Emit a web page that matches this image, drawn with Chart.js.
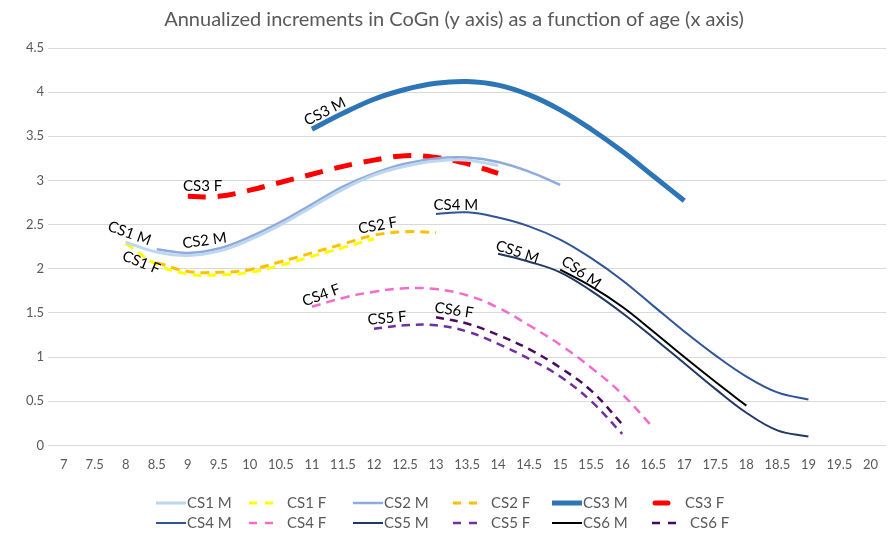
<!DOCTYPE html>
<html>
<head>
<meta charset="utf-8">
<script src="https://cdn.jsdelivr.net/npm/chart.js@4.4.1/dist/chart.umd.min.js"></script>
<style>
  body { margin: 0; background: #fff; }
  #wrap { width: 892px; height: 533px; position: relative; }
</style>
</head>
<body>
<div id="wrap"><canvas id="myChart"></canvas></div>
<script>
// tick labels on x (age)
var ages = ['7', '7.5', '8', '8.5', '9', '9.5', '10', '10.5', '11', '11.5', '12', '12.5', '13', '13.5',
            '14', '14.5', '15', '15.5', '16', '16.5', '17', '17.5', '18', '18.5', '19', '19.5', '20'];

// each series: first age and values every 0.5 year
var cs1M = [2.30, 2.19, 2.15, 2.20, 2.33, 2.50, 2.70, 2.90, 3.06, 3.16, 3.22, 3.23, 3.17];   // from 8
var cs1F = [2.29, 2.05, 1.94, 1.93, 1.96, 2.04, 2.14, 2.24, 2.34];                           // from 8
var cs2M = [2.22, 2.18, 2.23, 2.36, 2.53, 2.73, 2.93, 3.08, 3.19, 3.25, 3.26, 3.21, 3.10, 2.95]; // from 8.5
var cs2F = [2.07, 1.97, 1.96, 1.99, 2.08, 2.18, 2.28, 2.38, 2.42, 2.41];                     // from 8.5
var cs3M = [3.58, 3.76, 3.92, 4.03, 4.10, 4.12, 4.08, 3.97, 3.80, 3.58, 3.33, 3.05, 2.77];   // from 11
var cs3F = [2.82, 2.82, 2.89, 2.98, 3.07, 3.16, 3.23, 3.28, 3.26, 3.19, 3.08];               // from 9
var cs4M = [2.62, 2.64, 2.58, 2.48, 2.33, 2.12, 1.87, 1.58, 1.29, 1.02, 0.78, 0.60, 0.52];   // from 13
var cs4F = [1.57, 1.67, 1.74, 1.78, 1.77, 1.70, 1.56, 1.36, 1.14, 0.88, 0.58, 0.20];         // from 11
var cs5M = [2.17, 2.08, 1.96, 1.75, 1.50, 1.22, 0.93, 0.64, 0.37, 0.17, 0.10];               // from 14
var cs5F = [1.32, 1.36, 1.36, 1.29, 1.15, 0.98, 0.78, 0.50, 0.13];                           // from 12
var cs6M = [1.99, 1.80, 1.57, 1.29, 1.00, 0.72, 0.45];                                       // from 15
var cs6F = [1.45, 1.38, 1.25, 1.09, 0.88, 0.62, 0.24];                                       // from 13

// line-end labels: text, age, value, rotation (deg)
var tags = [
  ['CS1 M', 8.06, 2.40, 20], ['CS1 F', 8.25, 2.07, 22], ['CS2 M', 9.27, 2.32, -8],
  ['CS3 F', 9.24, 2.93, 0], ['CS3 M', 11.21, 3.78, -27], ['CS2 F', 12.06, 2.49, -10],
  ['CS4 M', 13.32, 2.72, 0], ['CS4 F', 11.15, 1.70, -20], ['CS5 F', 12.21, 1.44, -5],
  ['CS6 F', 13.29, 1.53, 8], ['CS5 M', 14.31, 2.19, 18], ['CS6 M', 15.34, 1.96, 35]
];

function from(age, vals) {
  var start = ages.indexOf(age);
  return ages.map(function (a, i) {
    var v = vals[i - start];
    return v === undefined ? null : v;
  });
}

function line(label, data, color, width, dash) {
  return {
    label: label, data: data, borderColor: color, backgroundColor: color,
    borderWidth: width, borderDash: dash || [], pointRadius: 0, fill: false,
    tension: 0.4, spanGaps: false
  };
}

var font = "Lato, 'Open Sans', sans-serif";
var datasets = [
  line('CS1 M', from('8', cs1M), '#bdd7ee', 3),
  line('CS1 F', from('8', cs1F), '#ffff00', 3, [9, 6]),
  line('CS2 M', from('8.5', cs2M), '#8faadc', 2.5),
  line('CS2 F', from('8.5', cs2F), '#ffc000', 3, [9, 6]),
  line('CS3 M', from('11', cs3M), '#2e75b6', 5),
  line('CS3 F', from('9', cs3F), '#ff0000', 5, [18, 12]),
  line('CS4 M', from('13', cs4M), '#2f5597', 2),
  line('CS4 F', from('11', cs4F), '#f36ccd', 2.5, [9, 6]),
  line('CS5 M', from('14', cs5M), '#203864', 2),
  line('CS5 F', from('12', cs5F), '#7030a0', 2.5, [8, 6]),
  line('CS6 M', from('15', cs6M), '#000000', 2),
  line('CS6 F', from('13', cs6F), '#4b0a5e', 2.5, [8, 6])
];

var tagPlugin = {
  id: 'tags',
  afterDatasetsDraw: function (chart) {
    var c = chart.ctx, xs = chart.scales.x, ys = chart.scales.y;
    var step = xs.getPixelForValue(1) - xs.getPixelForValue(0);
    c.save();
    c.font = '15px ' + font;
    c.fillStyle = '#000';
    c.textAlign = 'center';
    c.textBaseline = 'middle';
    tags.forEach(function (t) {
      var px = xs.getPixelForValue(0) + (t[1] - 7) * 2 * step;
      var py = ys.getPixelForValue(t[2]);
      c.save();
      c.translate(px, py);
      c.rotate(t[3] * Math.PI / 180);
      c.fillText(t[0], 0, 0);
      c.restore();
    });
    c.restore();
  }
};

// two-row legend like the original
var legendPlugin = {
  id: 'rowsLegend',
  afterDraw: function (chart) {
    var c = chart.ctx;
    var cols = [156, 249, 353, 453, 552, 652];
    var rows = [503, 523];
    c.save();
    c.font = '15px ' + font;
    c.fillStyle = '#595959';
    c.textBaseline = 'middle';
    datasets.forEach(function (ds, i) {
      var x = cols[i % 6], y = rows[Math.floor(i / 6)];
      var dashed = ds.borderDash.length > 0;
      c.strokeStyle = ds.borderColor;
      c.lineWidth = ds.borderWidth;
      c.beginPath();
      if (ds.label === 'CS3 F') {
        c.lineCap = 'round';
        c.setLineDash([]);
        c.moveTo(x + 3, y); c.lineTo(x + 16, y);
        c.stroke();
        c.lineCap = 'butt';
        c.fillText(ds.label, x + 33, y);
        return;
      }
      if (dashed) {
        c.setLineDash([8, 8]);
        c.moveTo(x, y); c.lineTo(x + 25, y);
      } else {
        c.setLineDash([]);
        c.moveTo(x, y); c.lineTo(x + 30, y);
      }
      c.stroke();
      c.fillText(ds.label, x + (dashed ? 38 : 31), y);
    });
    c.restore();
  }
};

var ctx = document.getElementById('myChart').getContext('2d');
var myChart = new Chart(ctx, {
  type: 'line',
  data: { labels: ages, datasets: datasets },
  plugins: [tagPlugin, legendPlugin],
  options: {
    responsive: true,
    maintainAspectRatio: false,
    animation: false,
    layout: { padding: { left: 22, right: 6, top: 0, bottom: 56 } },
    plugins: {
      legend: { display: false },
      tooltip: { enabled: false },
      title: {
        display: true,
        text: 'Annualized increments in CoGn (y axis) as a function of age (x axis)',
        color: '#595959',
        font: { family: font, size: 20, weight: 'normal' },
        padding: { top: 8, bottom: 16 }
      }
    },
    scales: {
      x: {
        offset: true,
        grid: { display: false },
        border: { display: false },
        ticks: { color: '#595959', font: { family: font, size: 13 }, padding: 4, maxRotation: 0, autoSkip: false }
      },
      y: {
        min: 0, max: 4.5,
        grid: { color: '#d9d9d9', drawTicks: false },
        border: { display: false },
        ticks: {
          stepSize: 0.5, color: '#595959', font: { family: font, size: 13 }, padding: 4,
          callback: function (v) { return String(Math.round(v * 10) / 10); }
        }
      }
    }
  }
});
</script>
</body>
</html>
